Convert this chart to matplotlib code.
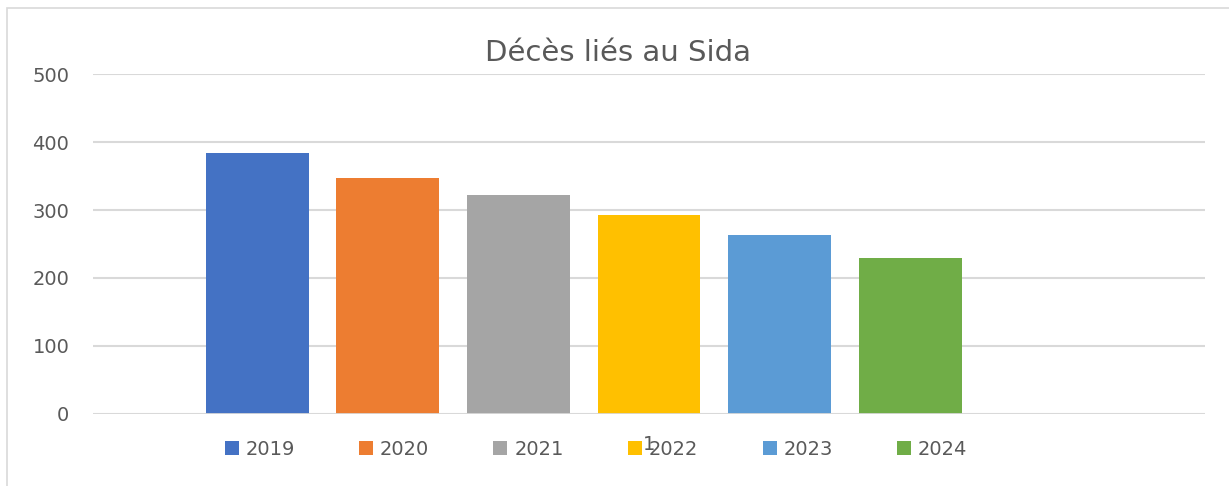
import matplotlib.pyplot as plt
from matplotlib.patches import Rectangle, Patch

years = ["2019", "2020", "2021", "2022", "2023", "2024"]
deaths = [384, 347, 322, 292, 263, 229]
colors = ["#4472C4", "#ED7D31", "#A5A5A5", "#FFC000", "#5B9BD5", "#70AD47"]
category = "1"
y_ticks = [0, 100, 200, 300, 400, 500]

W, H = 1229, 486
fig = plt.figure(figsize=(W / 100, H / 100), dpi=100)
fig.patch.set_facecolor("white")

# chart border (Excel frame), cut by the image edges
fig.add_artist(Rectangle((7 / W, -0.1), 1.2, 1 - 8 / H + 0.1,
                         transform=fig.transFigure, fill=False,
                         edgecolor="#d9d9d9", linewidth=1.2))

left, right = 93 / W, 1205 / W
bottom, top = 1 - 413.7 / H, 1 - 74.3 / H
ax = fig.add_axes([left, bottom, right - left, top - bottom])

# 7 series slots in the single category, last one empty
pitch = 0.1175
width = 0.0926
for i, (yr, v, c) in enumerate(zip(years, deaths, colors)):
    ax.bar(0.5 + (i - 3) * pitch, v, width=width, color=c, label=yr, zorder=3)

ax.set_xlim(0, 1)
ax.set_ylim(0, 500)
ax.set_yticks(y_ticks)
ax.set_xticks([0.5])
ax.set_xticklabels([category])
ax.tick_params(axis="both", length=0, colors="#595959", labelsize=14)
ax.tick_params(axis="y", pad=17)
ax.tick_params(axis="x", pad=15)
ax.grid(axis="y", color="#d9d9d9", linewidth=1.5, zorder=0)
for s in ax.spines.values():
    s.set_visible(False)
ax.axhline(0, color="#d9d9d9", linewidth=2, zorder=4)

fig.text(618 / W, 1 - 53 / H, "Décès liés au Sida", ha="center", va="center",
         fontsize=21, color="#595959")

handles = [Patch(facecolor=c, edgecolor="none") for c in colors]
fig.legend(handles, years, loc="center", bbox_to_anchor=(596 / W, 1 - 449 / H),
           ncol=6, frameon=False, fontsize=14, labelcolor="#595959",
           handlelength=0.72, handleheight=0.72, handletextpad=0.36,
           columnspacing=3.3)

fig.savefig("out.png", dpi=100)
